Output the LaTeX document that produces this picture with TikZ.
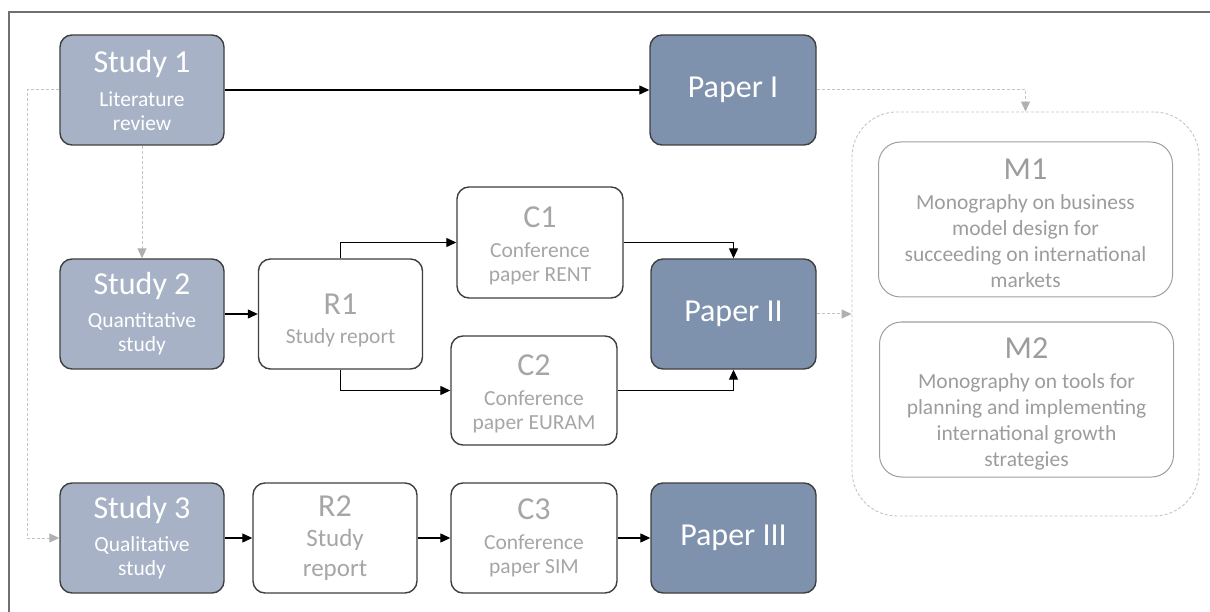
\documentclass[tikz,border=0pt]{standalone}
\usepackage{fontspec}
\setmainfont{Carlito}
\usetikzlibrary{arrows.meta}

\definecolor{studyfill}{HTML}{A7B2C6}
\definecolor{paperfill}{HTML}{7F92AD}
\definecolor{boxline}{HTML}{3F3F3F}
\definecolor{lighttext}{HTML}{A6A6A6}
\definecolor{mline}{HTML}{9E9E9E}
\definecolor{mtext}{HTML}{9C9C9C}
\definecolor{dashgray}{HTML}{C4C4C4}
\definecolor{arrowgray}{HTML}{B0B0B0}
\definecolor{framegray}{HTML}{707070}

% large first line of a box
\newcommand\boxtitle[1]{{\fontsize{32}{38}\selectfont #1}}
% invisible strut that pushes a text block downwards
\newcommand\lift[1]{\rule{0pt}{#1}}

\begin{document}
\begin{tikzpicture}[x=1pt,y=-1pt,
  box/.style={draw=boxline, line width=1.4pt, rounded corners=12pt,
    minimum width=164pt, minimum height=110pt, align=center, inner sep=2pt,
    font=\fontsize{21.5}{24}\selectfont},
  study/.style={box, fill=studyfill, text=white},
  paper/.style={box, fill=paperfill, text=white, font=\fontsize{32}{38}\selectfont},
  output/.style={box, fill=white, text=lighttext},
  mono/.style={draw=mline, line width=1pt, rounded corners=22pt,
    minimum width=294pt, minimum height=155pt, align=center, inner sep=2pt,
    text=mtext, font=\fontsize{21.5}{26}\selectfont},
  group/.style={draw=dashgray, line width=0.9pt, dash pattern=on 3pt off 2pt,
    rounded corners=45pt, minimum width=347pt, minimum height=404pt},
  flow/.style={draw=black, line width=1.2pt, -{Triangle[length=10pt,width=9pt]}},
  link/.style={draw=dashgray, line width=1pt, dash pattern=on 3pt off 2pt,
    -{Triangle[length=10pt,width=9pt,color=arrowgray]}},
  frame/.style={draw=framegray, line width=1.4pt},
]
\useasboundingbox (0,0) rectangle (1210,612);

% page frame (top and left edges)
\coordinate (fbl) at (9,612);
\coordinate (ftl) at (9,12);
\coordinate (ftr) at (1210,12);
\draw[frame] (fbl) -- (ftl) -- (ftr);

% studies
\node[study] (s1) at (142,90) {\boxtitle{Study 1}\\[10pt]Literature\\review};
\node[study] (s2) at (142,314) {\boxtitle{Study 2}\\[9pt]Quantitative\\study};
\node[study] (s3) at (142,538) {\boxtitle{Study 3}\\[9pt]Qualitative\\study};

% reports and conference papers
\node[output] (r1) at (340.5,314) {\lift{33pt}\boxtitle{R1}\\[5pt]Study report};
\node[output, minimum width=166pt, minimum height=111pt] (c1) at (540,242.5) {\lift{27pt}\boxtitle{C1}\\[6pt]Conference\\paper RENT};
\node[output, minimum width=166pt, minimum height=109pt] (c2) at (534,390.5) {\lift{27pt}\boxtitle{C2}\\[6pt]Conference\\paper EURAM};
\node[output, font=\fontsize{25}{30}\selectfont] (r2) at (335,538) {\boxtitle{R2}\\Study\\report};
\node[output, minimum width=166pt] (c3) at (534,538) {\boxtitle{C3}\\[6pt]Conference\\paper SIM};

% journal papers
\node[paper, minimum width=166pt] (p1) at (733,90) {Paper I};
\node[paper, minimum width=165pt] (p2) at (733.5,314) {Paper II};
\node[paper, minimum width=165pt] (p3) at (733.5,538) {Paper III};

% monographs
\node[group] (mg) at (1025.5,314) {};
\node[mono] (m1) at (1025.5,219.5) {\lift{29pt}\boxtitle{M1}\\[4pt]Monography on business\\model design for\\succeeding on international\\markets};
\node[mono] (m2) at (1026.5,399.5) {\lift{29pt}\boxtitle{M2}\\[4pt]Monography on tools for\\planning and implementing\\international growth\\strategies};

% solid flows
\draw[flow] (s1) -- (p1);
\draw[flow] (s2) -- (r1);
\draw[flow] (r1.north) |- (c1.west);
\draw[flow] (r1.south) |- (c2.west);
\draw[flow] (c1.east) -| (p2.north);
\draw[flow] (c2.east) -| (p2.south);
\draw[flow] (s3) -- (r2);
\draw[flow] (r2) -- (c3);
\draw[flow] (c3) -- (p3);

% dashed links
\draw[link] (s1) -- (s2);
\draw[link] (s1.west) -- ++(-32,0) |- (s3.west);
\draw[link] (p1.east) -| (mg.north);
\draw[link] (p2.east) -- (mg.west);
\end{tikzpicture}
\end{document}
